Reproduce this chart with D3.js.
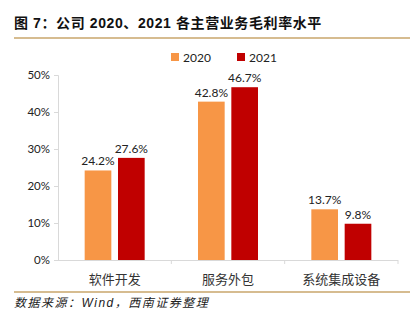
<!DOCTYPE html>
<html>
<head>
<meta charset="utf-8">
<style type="text/css">
  body{
    margin: 0;
    background: white;
  }
  svg text{
    font-family: 'Lato', 'Noto Sans CJK SC', sans-serif;
  }
</style>
</head>
<body>

<script src="https://cdn.jsdelivr.net/npm/d3@7/dist/d3.min.js" type="text/javascript"></script>

<script>

var categories = ['软件开发', '服务外包', '系统集成设备'];
var years = ['2020', '2021'];
var margin2020 = [24.2, 42.8, 13.7];
var margin2021 = [27.6, 46.7, 9.8];
var yTicks = [0, 10, 20, 30, 40, 50];

var colors = ['#f79646', '#c00000'];

var width = 411, height = 324;

var svg = d3.select('body').append('svg')
  .attr('width', width)
  .attr('height', height);

// title and rules
svg.append('text')
  .attr('x', 14)
  .attr('y', 28)
  .attr('font-size', 14)
  .attr('font-weight', 'bold')
  .attr('fill', '#111')
  .attr('letter-spacing', 0.6)
  .style('font-family', "'Liberation Sans', 'Noto Sans CJK SC', sans-serif")
  .text('图 7：公司 2020、2021 各主营业务毛利率水平');

svg.append('line')
  .attr('x1', 14).attr('x2', 410)
  .attr('y1', 38).attr('y2', 38)
  .attr('stroke', '#c9a66b')
  .attr('stroke-width', 1.5);

svg.append('line')
  .attr('x1', 14).attr('x2', 410)
  .attr('y1', 292).attr('y2', 292)
  .attr('stroke', '#c9a66b')
  .attr('stroke-width', 1.5);

svg.append('text')
  .attr('x', 14)
  .attr('y', 307)
  .attr('font-size', 12)
  .attr('font-style', 'italic')
  .attr('fill', '#222')
  .attr('letter-spacing', 1.5)
  .style('font-family', "'Liberation Sans', 'Noto Sans CJK SC', sans-serif")
  .text('数据来源：Wind，西南证券整理');

// scales
var x0 = d3.scaleBand()
  .domain(categories)
  .range([58, 398]);

var x1 = d3.scaleBand()
  .domain(years)
  .range([0, 60])
  .paddingInner(0.2);

var y = d3.scaleLinear()
  .domain([0, 50])
  .range([260, 75]);

// axes
var yAxis = d3.axisLeft(y)
  .tickValues(yTicks)
  .tickSize(4)
  .tickFormat(function(d) { return d + '%'; });

var gy = svg.append('g')
  .attr('transform', 'translate(58,0)')
  .call(yAxis);

gy.select('.domain').attr('stroke', '#d9d9d9');
gy.selectAll('.tick line').attr('stroke', '#d9d9d9');
gy.selectAll('.tick text')
  .attr('font-size', 11.5)
  .attr('fill', '#222')
  .attr('x', -8);

var xAxis = d3.axisBottom(x0)
  .tickSize(0);

var gx = svg.append('g')
  .attr('transform', 'translate(0,260)')
  .call(xAxis);

gx.select('.domain').attr('stroke', '#d9d9d9').attr('d', 'M54,0.5H398');
gx.selectAll('.tick text')
  .attr('font-size', 13)
  .attr('fill', '#333')
  .attr('dy', 0)
  .attr('y', 24)
  .style('font-family', "'Noto Sans CJK SC', sans-serif");

// category separators
gx.selectAll('.sep')
  .data(categories)
  .enter()
  .append('line')
  .attr('class', 'sep')
  .attr('x1', function(d) { return x0(d) + x0.bandwidth(); })
  .attr('x2', function(d) { return x0(d) + x0.bandwidth(); })
  .attr('y1', 0)
  .attr('y2', 4)
  .attr('stroke', '#d9d9d9');

// bars
var series = [margin2020, margin2021];

var groups = svg.selectAll('.group')
  .data(categories)
  .enter()
  .append('g')
  .attr('class', 'group')
  .attr('transform', function(d) {
    return 'translate(' + (x0(d) + x0.bandwidth() / 2 - 30) + ',0)';
  });

groups.selectAll('rect')
  .data(function(d, i) {
    return years.map(function(yr, j) { return {year: yr, value: series[j][i], idx: j}; });
  })
  .enter()
  .append('rect')
  .attr('x', function(d) { return x1(d.year); })
  .attr('width', x1.bandwidth())
  .attr('y', function(d) { return y(d.value); })
  .attr('height', function(d) { return 260 - y(d.value); })
  .attr('fill', function(d) { return colors[d.idx]; });

groups.selectAll('.val')
  .data(function(d, i) {
    return years.map(function(yr, j) { return {year: yr, value: series[j][i]}; });
  })
  .enter()
  .append('text')
  .attr('class', 'val')
  .attr('x', function(d) { return x1(d.year) + x1.bandwidth() / 2; })
  .attr('y', function(d) { return y(d.value) - 5; })
  .attr('text-anchor', 'middle')
  .attr('font-size', 12)
  .attr('fill', '#222')
  .text(function(d) { return d.value.toFixed(1) + '%'; });

// legend
var legend = svg.selectAll('.legend')
  .data(years)
  .enter()
  .append('g')
  .attr('class', 'legend')
  .attr('transform', function(d, i) { return 'translate(' + (171 + i * 66) + ',53)'; });

legend.append('rect')
  .attr('width', 8)
  .attr('height', 8)
  .attr('fill', function(d, i) { return colors[i]; });

legend.append('text')
  .attr('x', 12)
  .attr('y', 9)
  .attr('font-size', 12)
  .attr('fill', '#222')
  .text(function(d) { return d; });

</script>

</body>
</html>
